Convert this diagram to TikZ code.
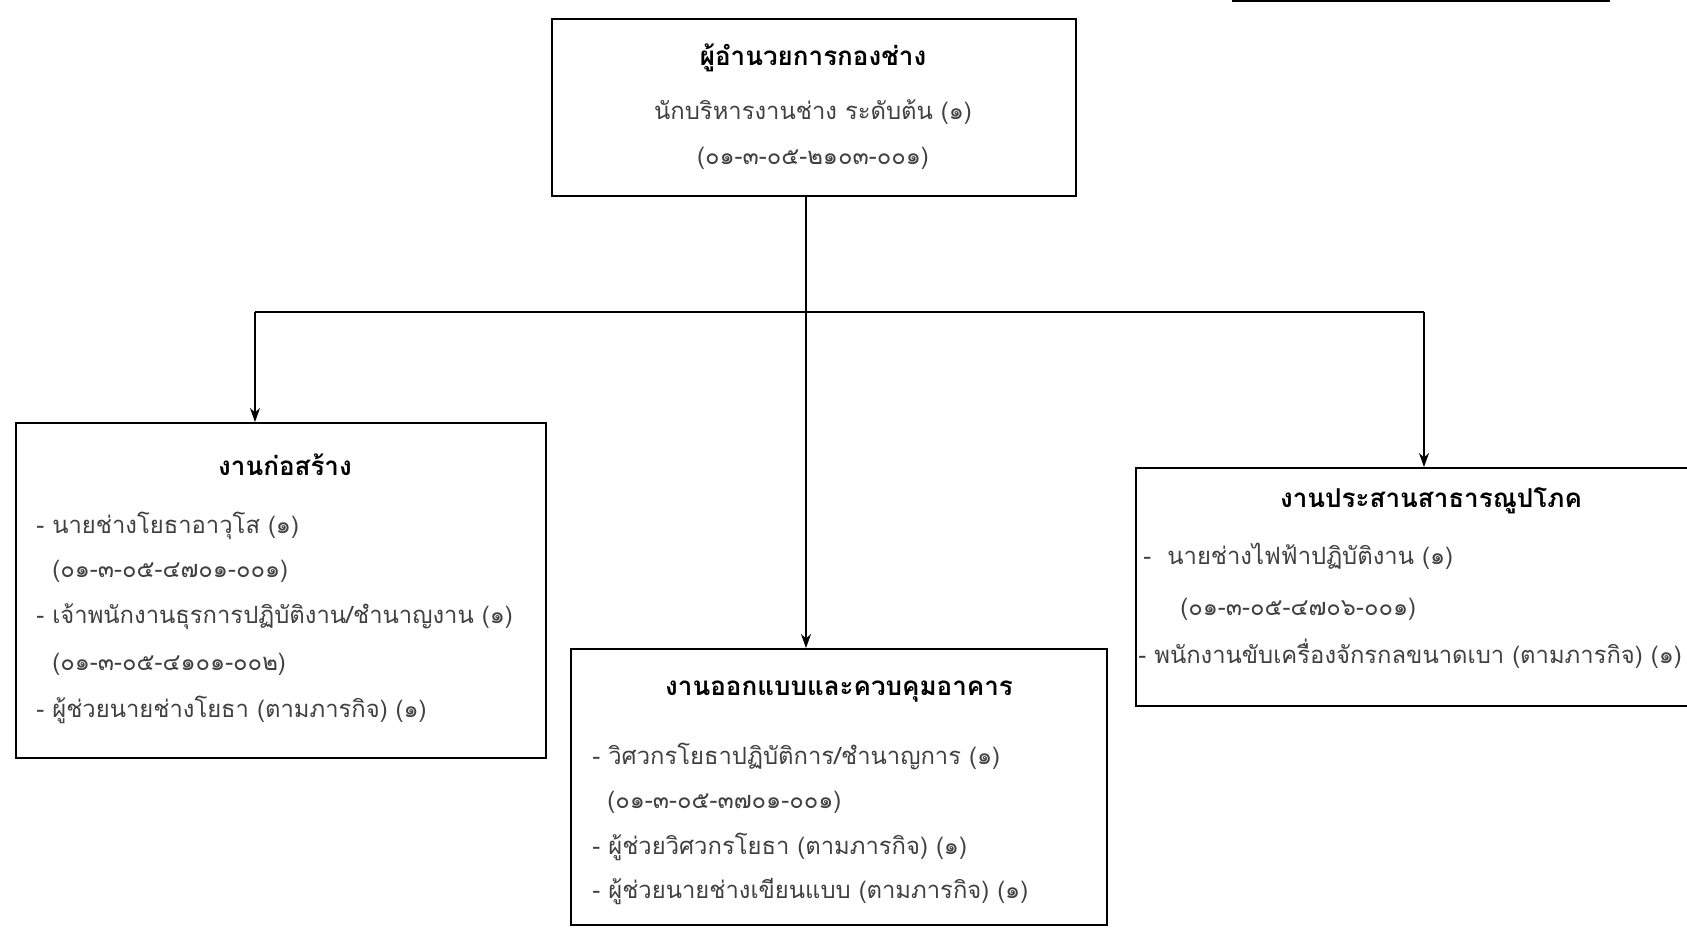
\documentclass[tikz,border=0pt]{standalone}
\usepackage{fontspec}
\newfontfamily\thai[Script=Thai]{Loma}
\usetikzlibrary{arrows.meta}
\begin{document}
\begin{tikzpicture}[x=0.5pt,y=-0.5pt,
  box/.style={draw, line width=1pt, inner sep=0pt, anchor=north west},
  ttl/.style={font=\thai\fontsize{13}{15}\selectfont\bfseries, text=black, inner sep=0pt},
  ln/.style={font=\thai\fontsize{11.9}{14}\selectfont, text=black!75, inner sep=0pt, anchor=west},
  conn/.style={line width=0.8pt},
  arr/.style={conn, -{Stealth[length=7pt,width=5pt]}}]
\useasboundingbox (0,0) rectangle (1687,929);
% boxes
\node[box, minimum width=262pt, minimum height=88.5pt] (top) at (551,18) {};
\node[box, minimum width=265pt, minimum height=167.5pt] (left) at (15,422) {};
\node[box, minimum width=268pt, minimum height=138pt] (mid) at (570,648) {};
\begin{scope}
\clip (0,0) rectangle (1687,929);
\node[box, minimum width=300pt, minimum height=119pt] (right) at (1135,467) {};
\draw[line width=1pt] (1232,1) -- (1610,1);
\end{scope}
% connectors
\coordinate (j) at (806,312);
\coordinate (jl) at (255,312);
\coordinate (jr) at (1424,312);
\draw[arr] (j |- top.south) -- (j |- mid.north);
\draw[conn] (jl) -- (jr);
\draw[arr] (jl) -- (jl |- left.north);
\draw[arr] (jr) -- (jr |- right.north);
% top box text
\node[ttl] (t1) at (813,58) {ผู้อำนวยการกองช่าง};
\node[ln, anchor=center] (t2) at (813,112) {นักบริหารงานช่าง ระดับต้น (๑)};
\node[ln, anchor=center] (t3) at (813,158) {(๐๑-๓-๐๕-๒๑๐๓-๐๐๑)};
% left box text
\node[ttl] (l0) at (285,465) {งานก่อสร้าง};
\node[ln] (l1) at (36,526) {- นายช่างโยธาอาวุโส (๑)};
\node[ln] (l2) at (52,571) {(๐๑-๓-๐๕-๔๗๐๑-๐๐๑)};
\node[ln] (l3) at (36,617) {- เจ้าพนักงานธุรการปฏิบัติงาน/ชำนาญงาน (๑)};
\node[ln] (l4) at (52,664) {(๐๑-๓-๐๕-๔๑๐๑-๐๐๒)};
\node[ln] (l5) at (36,710) {- ผู้ช่วยนายช่างโยธา (ตามภารกิจ) (๑)};
% middle box text
\node[ttl] (m0) at (839,692) {งานออกแบบและควบคุมอาคาร};
\node[ln] (m1) at (592,756) {- วิศวกรโยธาปฏิบัติการ/ชำนาญการ (๑)};
\node[ln] (m2) at (607,802) {(๐๑-๓-๐๕-๓๗๐๑-๐๐๑)};
\node[ln] (m3) at (592,847) {- ผู้ช่วยวิศวกรโยธา (ตามภารกิจ) (๑)};
\node[ln] (m4) at (592,892) {- ผู้ช่วยนายช่างเขียนแบบ (ตามภารกิจ) (๑)};
% right box text
\node[ttl] (r0) at (1431,501) {งานประสานสาธารณูปโภค};
\node[ln] (r1) at (1143,556) {-\ \ นายช่างไฟฟ้าปฏิบัติงาน (๑)};
\node[ln] (r2) at (1180,609) {(๐๑-๓-๐๕-๔๗๐๖-๐๐๑)};
\node[ln] (r3) at (1138,654) {- พนักงานขับเครื่องจักรกลขนาดเบา (ตามภารกิจ) (๑)};
\end{tikzpicture}
\end{document}
